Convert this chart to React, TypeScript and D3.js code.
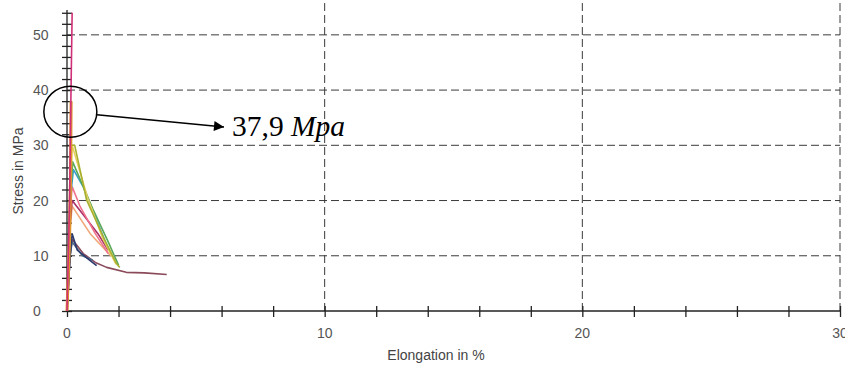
import React, { useEffect, useRef } from "react";
import { select, scaleLinear, line, axisBottom, axisLeft, range } from "d3";

// elongation (%) / stress (MPa) pairs, one array per specimen
const specMagenta = [[0, 0], [0.1, 20], [0.15, 38], [0.2, 54]];
const specOrange = [[0, 0], [0.1, 13], [0.14, 25], [0.16, 38]];
const specOlive = [[0, 0], [0.08, 15], [0.15, 30], [0.3, 30], [0.76, 20.1], [1.5, 12.5], [1.93, 8.5], [2.05, 7.9]];
const specYellow = [[0, 0], [0.12, 20], [0.2, 30], [0.8, 20.5], [1.4, 13], [1.9, 8.5]];
const specGreen = [[0, 0], [0.12, 20], [0.22, 27], [1.0, 18.5], [1.6, 12.5], [2.0, 8.3]];
const specCyan = [[0, 0], [0.12, 20], [0.25, 25.6], [0.63, 22.5], [1.1, 17], [1.54, 11.9]];
const specPink = [[0, 0], [0.12, 18], [0.2, 22.5], [0.5, 19], [1.1, 14], [1.6, 10.4]];
const specPurple = [[0, 0], [0.12, 16], [0.2, 20], [0.7, 17], [1.2, 14], [1.6, 11]];
const specSalmon = [[0, 0], [0.12, 15], [0.2, 19], [0.9, 14], [1.7, 10]];
const specNavy = [[0, 0], [0.12, 10], [0.2, 14], [0.4, 11], [0.8, 9.5], [1.15, 8.2]];
const specSlate = [[0, 0], [0.12, 10], [0.2, 12.5], [0.6, 10], [1.0, 9.2]];
const specMaroon = [[0, 0], [0.12, 10], [0.2, 13], [0.63, 10.4], [1.1, 8.8], [1.54, 7.9], [2.3, 7.0], [3.0, 6.9], [3.87, 6.6]];

const seriesColors = [
  "#8a4a5a", "#506c88", "#2c3c70", "#f0a878", "#a83068", "#f0708a",
  "#3aa0c8", "#5aa85a", "#e6d060", "#a8b030", "#e0942a", "#d0307a",
];
const seriesWidths = [1.6, 1.6, 1.6, 1.6, 1.6, 1.6, 1.6, 1.6, 1.6, 1.6, 3, 1.6];
const seriesList = [
  specMaroon, specSlate, specNavy, specSalmon, specPurple, specPink,
  specCyan, specGreen, specYellow, specOlive, specOrange, specMagenta,
];

const xMajor = [0, 10, 20, 30];
const yMajor = [0, 10, 20, 30, 40, 50];
const annotValue = 37.9;

export default function App() {
  const ref = useRef<SVGSVGElement>(null);

  useEffect(() => {
    const svg = select(ref.current);
    svg.selectAll("*").remove();

    const x = scaleLinear().domain([0, 30]).range([67, 840]);
    const y = scaleLinear().domain([0, 54.5]).range([311, 10]);

    const g = svg.append("g");

    // dashed grid
    g.selectAll(".hgrid")
      .data(yMajor.slice(1))
      .enter()
      .append("line")
      .attr("x1", x(0))
      .attr("x2", x(30))
      .attr("y1", (d) => y(d))
      .attr("y2", (d) => y(d))
      .attr("stroke", "#3a3a3a")
      .attr("stroke-dasharray", "8,4");
    g.selectAll(".vgrid")
      .data(xMajor.slice(1))
      .enter()
      .append("line")
      .attr("x1", (d) => x(d))
      .attr("x2", (d) => x(d))
      .attr("y1", y(0))
      .attr("y2", 2)
      .attr("stroke", "#3a3a3a")
      .attr("stroke-dasharray", "8,4");

    // axes
    const xAxis = axisBottom(x).tickValues(range(0, 31, 2)).tickSize(6).tickFormat(() => "");
    const gx = g.append("g").attr("transform", `translate(0,${y(0) - 5})`).call(xAxis);
    gx.select(".domain").remove();
    gx.selectAll("line").attr("stroke", "#222").attr("stroke-width", 1.3).attr("y2", 11);
    g.append("line").attr("x1", x(0)).attr("x2", x(30)).attr("y1", y(0)).attr("y2", y(0)).attr("stroke", "#222").attr("stroke-width", 1.3);

    const yAxis = axisLeft(y).tickValues(range(0, 55, 2)).tickSize(5).tickFormat(() => "");
    const gy = g.append("g").attr("transform", `translate(${x(0) + 5},0)`).call(yAxis);
    gy.select(".domain").remove();
    gy.selectAll("line").attr("stroke", "#222").attr("stroke-width", 1.3).attr("x2", -10);
    g.append("line").attr("x1", x(0)).attr("x2", x(0)).attr("y1", y(0)).attr("y2", 10).attr("stroke", "#222").attr("stroke-width", 1.3);

    // tick labels
    g.selectAll(".xl")
      .data(xMajor)
      .enter()
      .append("text")
      .attr("x", (d) => x(d))
      .attr("y", y(0) + 27)
      .attr("text-anchor", "middle")
      .attr("font-family", "Liberation Sans, Arial, sans-serif")
      .attr("font-size", 14)
      .attr("fill", "#555")
      .text((d) => d);
    g.selectAll(".yl")
      .data(yMajor)
      .enter()
      .append("text")
      .attr("x", 33)
      .attr("y", (d) => y(d) + 5)
      .attr("font-family", "Liberation Sans, Arial, sans-serif")
      .attr("font-size", 14)
      .attr("fill", "#555")
      .text((d) => d);

    g.append("text")
      .attr("x", 436)
      .attr("y", 360)
      .attr("text-anchor", "middle")
      .attr("font-family", "Liberation Sans, Arial, sans-serif")
      .attr("font-size", 14)
      .attr("fill", "#444")
      .text("Elongation in %");
    g.append("text")
      .attr("transform", "translate(23,171) rotate(-90)")
      .attr("text-anchor", "middle")
      .attr("font-family", "Liberation Sans, Arial, sans-serif")
      .attr("font-size", 14)
      .attr("fill", "#444")
      .text("Stress in MPa");

    // specimen curves
    const lineGen = line<number[]>()
      .x((d) => x(d[0]))
      .y((d) => y(d[1]));
    g.selectAll(".curve")
      .data(seriesList)
      .enter()
      .append("path")
      .attr("d", (d) => lineGen(d))
      .attr("fill", "none")
      .attr("stroke", (_d, i) => seriesColors[i])
      .attr("stroke-width", (_d, i) => seriesWidths[i])
      .attr("stroke-linejoin", "round");

    // annotation
    const cx = x(0.13);
    const cy = y(annotValue) + 10;
    g.append("ellipse")
      .attr("cx", cx)
      .attr("cy", cy)
      .attr("rx", 26.5)
      .attr("ry", 25.5)
      .attr("fill", "none")
      .attr("stroke", "#000")
      .attr("stroke-width", 1.5);
    svg.append("defs")
      .append("marker")
      .attr("id", "arrowHead")
      .attr("viewBox", "0 0 10 10")
      .attr("refX", 10)
      .attr("refY", 5)
      .attr("markerWidth", 12)
      .attr("markerHeight", 10)
      .attr("markerUnits", "userSpaceOnUse")
      .attr("orient", "auto")
      .append("path")
      .attr("d", "M0,0 L10,5 L0,10 Z")
      .attr("fill", "#000");
    g.append("line")
      .attr("x1", cx + 26.5)
      .attr("y1", cy + 3)
      .attr("x2", 224)
      .attr("y2", 127)
      .attr("stroke", "#000")
      .attr("stroke-width", 1.5)
      .attr("marker-end", "url(#arrowHead)");
    const t = g.append("text")
      .attr("x", 232)
      .attr("y", 136)
      .attr("font-family", "Liberation Serif, Times New Roman, serif")
      .attr("font-size", 29.5)
      .attr("fill", "#000");
    t.append("tspan").text(`${String(annotValue).replace(".", ",")} `);
    t.append("tspan").attr("font-style", "italic").text("Mpa");
  }, []);

  return (
    <svg
      ref={ref}
      width={845}
      height={366}
      style={{ position: "absolute", left: 0, top: 0, background: "#fff" }}
    />
  );
}
